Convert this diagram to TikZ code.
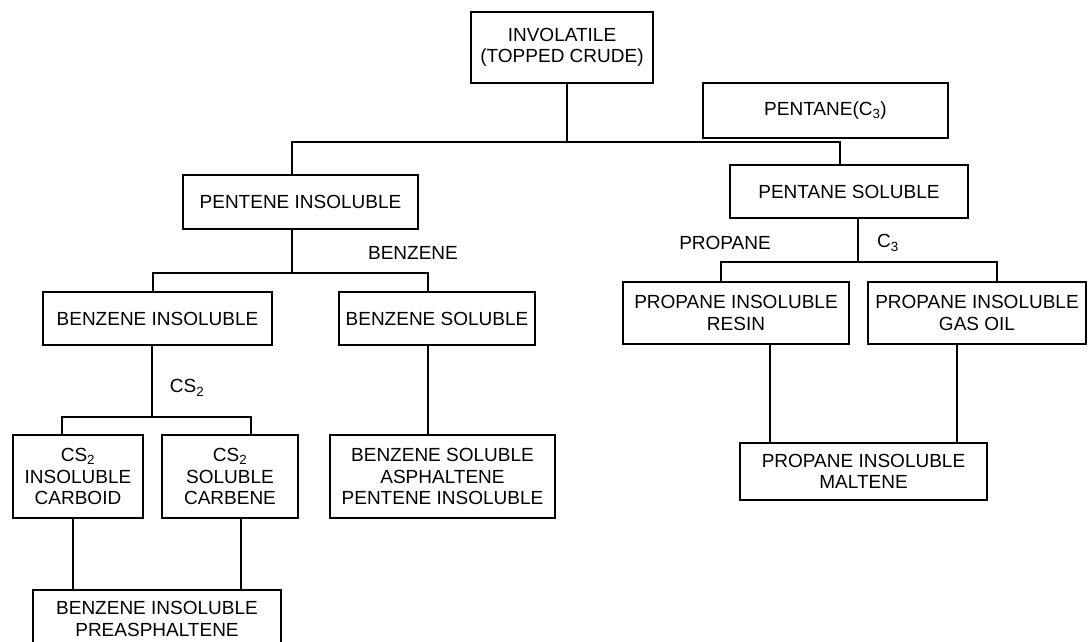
\documentclass[tikz,border=0pt]{standalone}
\usepackage{fontspec}
\setmainfont{Liberation Sans}
\begin{document}
\begin{tikzpicture}[x=1pt,y=-1pt,
  box/.style={draw,line width=1.1pt,inner sep=0pt,align=center,
    font=\fontsize{19}{21.5}\selectfont},
  lbl/.style={inner sep=0pt,font=\fontsize{19}{21.5}\selectfont},
  link/.style={line width=1.1pt},
  thick link/.style={line width=1.8pt}]
\useasboundingbox (0,0) rectangle (1089,641);
% boxes
\node[box,minimum width=182pt,minimum height=71pt] (top) at (562,47.5) {INVOLATILE\\(TOPPED CRUDE)};
\node[box,minimum width=245pt,minimum height=55pt] (pc) at (825.5,110.5) {PENTANE(C\textsubscript{3})};
\node[box,minimum width=238pt,minimum height=53pt] (ps) at (849,191.5) {PENTANE SOLUBLE};
\node[box,minimum width=235pt,minimum height=54pt] (pi) at (300.5,202) {PENTENE INSOLUBLE};
\node[box,minimum width=229pt,minimum height=53pt] (bi) at (157.5,318.5) {BENZENE INSOLUBLE};
\node[box,minimum width=196pt,minimum height=53pt] (bs) at (437,318.5) {BENZENE SOLUBLE};
\node[box,minimum width=130pt,minimum height=83pt] (cb) at (78,476.5) {CS\textsubscript{2}\\INSOLUBLE\\CARBOID};
\node[box,minimum width=136pt,minimum height=83pt] (ca) at (230,476.5) {CS\textsubscript{2}\\SOLUBLE\\CARBENE};
\node[box,minimum width=225pt,minimum height=83pt] (bsa) at (442.5,476.5) {BENZENE SOLUBLE\\ASPHALTENE\\PENTENE INSOLUBLE};
\node[box,minimum width=248pt,minimum height=58pt] (pre) at (157,619) {BENZENE INSOLUBLE\\PREASPHALTENE};
\node[box,minimum width=226pt,minimum height=62pt] (rs) at (736,313) {PROPANE INSOLUBLE\\RESIN};
\node[box,minimum width=218pt,minimum height=62pt] (go) at (977,313) {PROPANE INSOLUBLE\\GAS OIL};
\node[box,minimum width=247pt,minimum height=57pt] (mt) at (863.5,471.5) {PROPANE INSOLUBLE\\MALTENE};
% labels
\node[lbl] (lb) at (413,253) {BENZENE};
\node[lbl] (lc) at (187,388) {CS\textsubscript{2}};
\node[lbl] (lp) at (725,243) {PROPANE};
\node[lbl] (lc3) at (888,243) {C\textsubscript{3}};
% junctions
\coordinate (j1) at (567,142);
\coordinate (jL) at (292,142);
\coordinate (jR) at (840,142);
\coordinate (b0) at (292,273);
\coordinate (bL) at (153,273);
\coordinate (bR) at (428,273);
\coordinate (c0) at (152,417);
\coordinate (cL) at (62,417);
\coordinate (cR) at (251,417);
\coordinate (p0) at (858,262);
\coordinate (pL) at (721,262);
\coordinate (pR) at (997,262);
\coordinate (d1) at (73,0);
\coordinate (d2) at (241,0);
\coordinate (m1) at (770,0);
\coordinate (m2) at (957,0);
% connectors
\draw[thick link] (top.south -| j1) -- (j1);
\draw[thick link] (pi.north -| jL) -- (jL) -- (jR) -- (ps.north -| jR);
\draw[link] (pi.south -| b0) -- (b0);
\draw[link] (bi.north -| bL) -- (bL) -- (bR) -- (bs.north -| bR);
\draw[link] (bi.south -| c0) -- (c0);
\draw[link] (cb.north -| cL) -- (cL) -- (cR) -- (ca.north -| cR);
\draw[link] (cb.south -| d1) -- (pre.north -| d1);
\draw[link] (ca.south -| d2) -- (pre.north -| d2);
\draw[link] (bs.south -| bR) -- (bsa.north -| bR);
\draw[link] (ps.south -| p0) -- (p0);
\draw[link] (rs.north -| pL) -- (pL) -- (pR) -- (go.north -| pR);
\draw[link] (rs.south -| m1) -- (mt.north -| m1);
\draw[link] (go.south -| m2) -- (mt.north -| m2);
\end{tikzpicture}
\end{document}
